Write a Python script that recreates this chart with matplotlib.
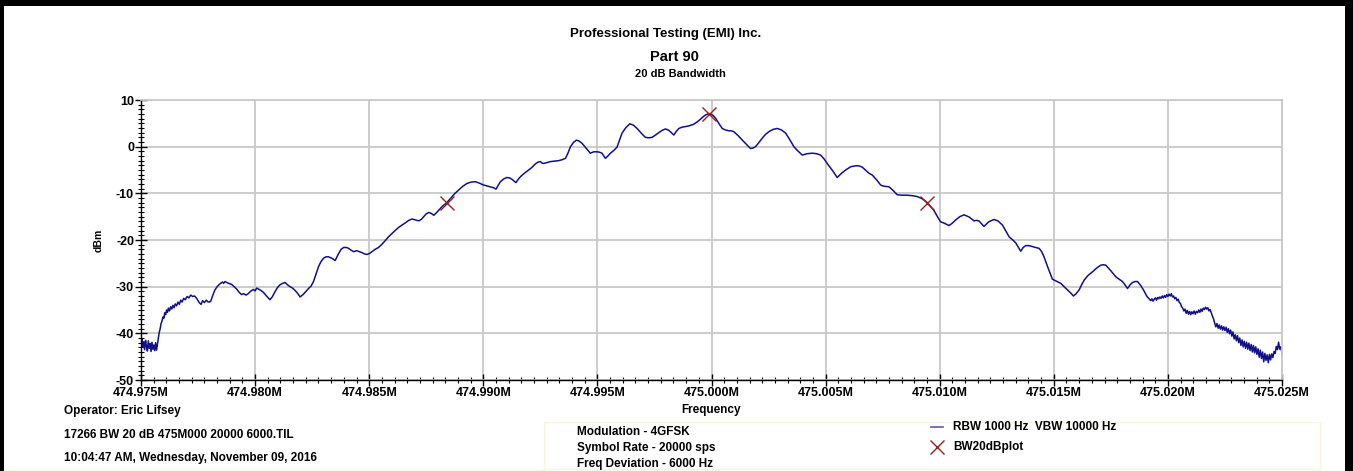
import numpy as np
import matplotlib.pyplot as plt
from matplotlib.ticker import MultipleLocator, AutoMinorLocator, FuncFormatter
from matplotlib.patches import Rectangle
from matplotlib.lines import Line2D

plt.rcParams['font.family'] = ['Liberation Sans', 'DejaVu Sans']

# sweep start, trace offsets in kHz from this frequency
start_mhz = 474.975

# main trace, read point by point (kHz offset, dBm)
trace_khz = [
    0.00, 0.04, 0.08, 0.12, 0.16, 0.20, 0.24, 0.28, 0.32, 0.36, 0.40, 0.44, 0.48, 0.52, 0.56,
    0.60, 0.64, 0.68, 0.72, 0.76, 0.80, 0.84, 0.88, 0.92, 0.96, 1.00, 1.04, 1.08, 1.12, 1.16,
    1.20, 1.25, 1.30, 1.35, 1.40, 1.45, 1.50, 1.56, 1.62, 1.68, 1.74, 1.80, 1.87, 1.94, 2.02,
    2.10, 2.18, 2.26, 2.35, 2.45, 2.55, 2.63, 2.70, 2.78, 2.86, 2.95, 3.05, 3.15, 3.24, 3.35,
    3.46, 3.57, 3.62, 3.68, 3.80, 3.90, 3.97, 4.08, 4.19, 4.30, 4.41, 4.50, 4.60, 4.70, 4.80,
    4.92, 5.00, 5.07, 5.14, 5.25, 5.36, 5.50, 5.65, 5.75, 5.87, 5.98, 6.09, 6.20, 6.31, 6.42,
    6.53, 6.64, 6.75, 6.86, 6.97, 7.05, 7.12, 7.23, 7.34, 7.45, 7.56, 7.67, 7.78, 7.89, 8.00,
    8.11, 8.22, 8.36, 8.51, 8.58, 8.66, 8.77, 8.88, 9.00, 9.10, 9.21, 9.32, 9.46, 9.57, 9.68,
    9.80, 9.90, 10.01, 10.12, 10.26, 10.41, 10.56, 10.71, 10.85, 11.00, 11.15, 11.29, 11.44,
    11.59, 11.73, 11.88, 12.03, 12.17, 12.28, 12.39, 12.50, 12.61, 12.72, 12.83, 12.94, 13.05,
    13.20, 13.40, 13.60, 13.76, 13.92, 14.10, 14.28, 14.46, 14.65, 14.82, 15.00, 15.15, 15.30,
    15.45, 15.56, 15.65, 15.75, 15.90, 16.04, 16.15, 16.26, 16.35, 16.43, 16.56, 16.70, 16.85,
    16.99, 17.14, 17.28, 17.40, 17.50, 17.57, 17.65, 17.80, 17.94, 18.12, 18.30, 18.45, 18.60,
    18.70, 18.82, 18.95, 19.08, 19.20, 19.33, 19.50, 19.69, 19.84, 19.99, 20.10, 20.20, 20.28,
    20.35, 20.46, 20.57, 20.72, 20.86, 20.97, 21.08, 21.25, 21.42, 21.58, 21.74, 21.92, 22.10,
    22.25, 22.40, 22.55, 22.69, 22.84, 22.98, 23.10, 23.20, 23.28, 23.35, 23.46, 23.57, 23.72,
    23.86, 24.04, 24.22, 24.37, 24.52, 24.63, 24.74, 24.88, 24.96, 25.07, 25.18, 25.32, 25.47,
    25.60, 25.76, 25.87, 25.98, 26.16, 26.35, 26.53, 26.71, 26.82, 26.93, 27.08, 27.22, 27.36,
    27.51, 27.70, 27.88, 28.06, 28.25, 28.43, 28.61, 28.80, 28.98, 29.20, 29.42, 29.60, 29.78,
    29.93, 30.07, 30.30, 30.51, 30.70, 30.88, 31.10, 31.32, 31.46, 31.61, 31.90, 32.05, 32.25,
    32.41, 32.49, 32.60, 32.78, 32.96, 33.14, 33.35, 33.58, 33.80, 34.02, 34.25, 34.46, 34.60,
    34.75, 34.90, 35.04, 35.20, 35.41, 35.55, 35.70, 35.88, 36.07, 36.30, 36.50, 36.60, 36.72,
    36.83, 36.94, 37.15, 37.38, 37.55, 37.75, 37.90, 38.04, 38.18, 38.33, 38.44, 38.55, 38.66,
    38.77, 38.90, 39.06, 39.20, 39.36, 39.47, 39.57, 39.75, 39.94, 40.10, 40.31, 40.45, 40.60,
    40.75, 40.86, 40.98, 41.11, 41.22, 41.33, 41.50, 41.70, 41.88, 42.06, 42.17, 42.28, 42.50,
    42.72, 42.86, 43.01, 43.12, 43.23, 43.34, 43.45, 43.56, 43.67, 43.80, 43.93, 44.07,
]
trace_dbm = [
    -42.0, -41.2, -43.0, -41.8, -43.5, -41.5, -42.8, -43.8, -41.6, -43.2, -42.2, -43.9, -41.9, -43.4, -42.5,
    -43.7, -42.0, -43.6, -42.4, -41.0, -39.8, -39.0, -37.9, -37.4, -36.5, -36.8, -35.6, -36.0, -35.0, -35.5,
    -34.6, -35.2, -34.3, -34.8, -34.0, -34.5, -33.7, -34.1, -33.3, -33.8, -32.9, -33.3, -32.5, -32.8, -32.1,
    -32.4, -31.8, -32.1, -32.0, -32.6, -33.4, -33.8, -33.0, -33.4, -32.9, -33.3, -33.2, -31.8, -30.7, -29.9,
    -29.4, -29.0, -29.3, -28.9, -29.2, -29.4, -29.5, -30.0, -30.5, -31.2, -31.7, -31.5, -31.8, -31.5, -31.0,
    -30.6, -30.9, -30.3, -30.5, -30.8, -31.2, -32.0, -32.8, -32.2, -31.1, -30.2, -29.6, -29.3, -29.1, -29.6,
    -30.0, -30.3, -30.8, -31.4, -32.2, -31.9, -31.6, -31.0, -30.4, -29.9, -28.9, -27.3, -25.7, -24.6, -23.9,
    -23.6, -23.6, -23.9, -24.4, -23.7, -22.9, -22.0, -21.6, -21.6, -21.8, -22.2, -22.5, -22.3, -22.5, -22.7,
    -23.0, -23.1, -22.9, -22.5, -22.0, -21.6, -20.9, -20.1, -19.3, -18.6, -17.9, -17.3, -16.8,
    -16.3, -15.8, -15.5, -15.7, -15.9, -15.6, -15.0, -14.4, -14.1, -14.3, -14.7, -14.2, -13.6,
    -12.8, -12.0, -10.9, -10.0, -9.3, -8.5, -7.9, -7.6, -7.5, -7.8, -8.2, -8.4, -8.6,
    -8.8, -9.1, -8.3, -7.5, -6.9, -6.6, -6.7, -7.0, -7.4, -7.7, -6.8, -6.1, -5.5,
    -5.0, -4.4, -3.7, -3.3, -3.2, -3.5, -3.6, -3.4, -3.2, -3.1, -3.0, -2.8, -2.5,
    -1.5, 0.0, 0.9, 1.4, 1.2, 0.7, -0.3, -1.4, -1.1, -1.1, -1.2, -1.4, -2.0,
    -2.5, -2.0, -1.4, -0.8, -0.1, 1.4, 2.9, 4.1, 4.9, 4.6, 3.9, 2.9, 2.0,
    1.9, 2.0, 2.5, 3.0, 3.5, 3.8, 3.6, 3.2, 2.8, 2.5, 3.3, 3.9, 4.2,
    4.3, 4.5, 4.8, 5.3, 5.9, 6.4, 6.8, 7.1, 7.0, 6.7, 6.1, 5.0, 3.9,
    3.6, 3.4, 3.4, 3.2, 2.4, 1.4, 0.5, -0.4, -0.3, 0.0, 0.9, 1.8, 2.6,
    3.2, 3.7, 3.9, 3.6, 2.9, 1.5, 0.0, -1.0, -1.8, -1.5, -1.4, -1.5, -1.8,
    -2.6, -3.6, -5.1, -6.6, -5.7, -5.0, -4.3, -4.1, -4.1, -4.4, -5.7, -6.1, -7.2,
    -8.2, -8.4, -8.5, -8.6, -9.4, -10.3, -10.4, -10.4, -10.5, -10.7, -11.2, -12.0, -12.8,
    -13.7, -15.0, -16.1, -16.4, -16.9, -16.4, -15.7, -15.0, -14.6, -15.1, -15.9, -15.8, -15.9,
    -16.5, -17.1, -16.1, -15.6, -15.9, -16.8, -18.1, -19.3, -19.9, -20.6, -21.5, -22.4, -21.6,
    -21.2, -21.2, -21.4, -21.6, -21.8, -22.5, -23.6, -26.0, -28.4, -28.8, -29.3, -30.0, -30.7,
    -31.4, -32.0, -31.5, -30.7, -29.6, -28.6, -27.6, -26.8, -26.0, -25.4, -25.3, -25.4, -26.6,
    -27.9, -28.4, -28.9, -29.6, -30.4, -29.6, -29.1, -28.9, -28.9, -29.7, -30.7, -32.0,
]

# noisy upper end of the sweep, sampled every 0.05 kHz from 44.25 kHz
tail_start_khz = 44.25
tail_step_khz = 0.05
tail_dbm = [
    -33.0, -32.6, -33.1, -32.7, -32.4, -32.9, -32.3, -32.6, -32.2, -32.5, -32.0, -32.4, -31.9, -32.3, -31.7,
    -32.1, -31.6, -32.0, -31.5, -32.2, -32.0, -32.6, -32.3, -33.0, -32.7, -33.4, -33.6, -34.3, -34.6, -35.2,
    -34.8, -35.7, -35.1, -35.9, -35.3, -36.0, -35.4, -35.8, -35.2, -35.9, -35.3, -35.6, -35.0, -35.5, -34.8,
    -35.3, -34.6, -34.9, -34.4, -34.8, -34.5, -35.2, -34.9, -35.6, -36.3, -36.9, -37.8, -38.6, -37.9, -38.9,
    -38.2, -39.1, -38.4, -39.3, -38.6, -39.4, -38.7, -39.8, -39.0, -40.1, -39.3, -40.6, -39.7, -41.2, -40.3,
    -41.6, -40.5, -42.0, -41.0, -42.6, -41.4, -42.9, -41.7, -43.2, -41.9, -43.4, -42.1, -43.7, -42.4, -44.0,
    -42.6, -44.2, -42.9, -44.5, -43.3, -45.1, -43.6, -45.4, -44.0, -46.1, -44.3, -45.8, -44.6, -46.3, -44.5,
    -45.7, -44.4, -45.2, -43.9, -44.3, -42.8, -43.5, -41.9, -43.4, -42.9, -44.3,
]

# 20 dB bandwidth markers (MHz, dBm)
marker_mhz = [474.98840, 474.99988, 475.00946]
marker_dbm = [-12.1, 7.1, -12.0]

title_lines = ["Professional Testing (EMI) Inc.", "Part 90", "20 dB Bandwidth"]
info_left = ["Operator: Eric Lifsey",
             "17266 BW 20 dB 475M000 20000 6000.TIL",
             "10:04:47 AM, Wednesday, November 09, 2016"]
info_mid = ["Modulation - 4GFSK", "Symbol Rate - 20000 sps", "Freq Deviation - 6000 Hz"]
legend_labels = ["RBW 1000 Hz  VBW 10000 Hz", "BW20dBplot"]

trace_col = '#10108a'
marker_col = '#9b2020'
grid_col = '#c8c8c8'
box_col = '#fbf4dc'
W, H = 1353, 471

tail_khz = tail_start_khz + tail_step_khz * np.arange(len(tail_dbm))
freq = start_mhz + np.concatenate([trace_khz, tail_khz]) / 1000.0
level = np.concatenate([trace_dbm, tail_dbm])

fig = plt.figure(figsize=(W / 100, H / 100), dpi=100)

# page decorations in pixel coordinates
bg = fig.add_axes([0, 0, 1, 1])
bg.set_xlim(0, W)
bg.set_ylim(H, 0)
bg.axis('off')
bg.add_patch(Rectangle((0, 0), W, 6, color='black', lw=0))
bg.add_patch(Rectangle((0, 0), 4, H, color='black', lw=0))
bg.add_patch(Rectangle((1345, 0), 8, H, color='black', lw=0))
bg.add_patch(Rectangle((544, 422), 776, 47, fill=False, ec=box_col, lw=1))
bg.plot([4, 544], [469.5, 469.5], color=box_col, lw=1)

bg.text(666, 34, title_lines[0], ha='center', va='center', fontsize=9.5, fontweight='bold')
bg.text(674, 57, title_lines[1], ha='center', va='center', fontsize=10.5, fontweight='bold')
bg.text(680, 74, title_lines[2], ha='center', va='center', fontsize=8, fontweight='bold')

for txt, yy in zip(info_left, [411, 435, 458]):
    bg.text(64, yy, txt, ha='left', va='center', fontsize=8.5, fontweight='bold')
for txt, yy in zip(info_mid, [432, 448, 464]):
    bg.text(577, yy, txt, ha='left', va='center', fontsize=8.5, fontweight='bold')

bg.add_line(Line2D([931, 943], [427, 427], color='#5a5ab0', lw=1.2))
bg.plot([937], [447], 'x', color=marker_col, ms=10, mew=1.0)
for txt, yy in zip(legend_labels, [427, 447]):
    bg.text(953, yy, txt, ha='left', va='center', fontsize=8.5, fontweight='bold')

# spectrum plot
ax = fig.add_axes([141 / W, 1 - 380 / H, (1282 - 141) / W, 280 / H])
ax.plot(freq, level, color=trace_col, lw=1.1)
ax.plot(marker_mhz, marker_dbm, 'x', color=marker_col, ms=10, mew=1.0)

ax.set_xlim(474.975, 475.025)
ax.set_ylim(-50, 10)
ax.xaxis.set_major_locator(MultipleLocator(0.005))
ax.xaxis.set_minor_locator(AutoMinorLocator(9))
ax.yaxis.set_major_locator(MultipleLocator(10))
ax.yaxis.set_minor_locator(MultipleLocator(1))
ax.xaxis.set_major_formatter(FuncFormatter(lambda v, p: f"{v:.3f}M"))
ax.yaxis.set_major_formatter(FuncFormatter(lambda v, p: f"{v:.0f}"))

ax.grid(True, which='major', color=grid_col, lw=1.3)
ax.set_axisbelow(True)
for side in ['top', 'right']:
    ax.spines[side].set_color(grid_col)
    ax.spines[side].set_linewidth(1.3)
for side in ['left', 'bottom']:
    ax.spines[side].set_color('black')
    ax.spines[side].set_linewidth(1.0)

ax.tick_params(which='major', direction='inout', length=8, width=1, pad=1,
               top=False, right=False)
ax.tick_params(which='minor', direction='inout', length=5, width=0.8,
               top=False, right=False)
for lab in ax.get_xticklabels() + ax.get_yticklabels():
    lab.set_fontweight('bold')
    lab.set_fontsize(9)

ax.set_xlabel("Frequency", fontsize=8.5, fontweight='bold', labelpad=4)
ax.set_ylabel("dBm", fontsize=7.5, fontweight='bold', labelpad=9)

fig.savefig('out.png', dpi=100)
